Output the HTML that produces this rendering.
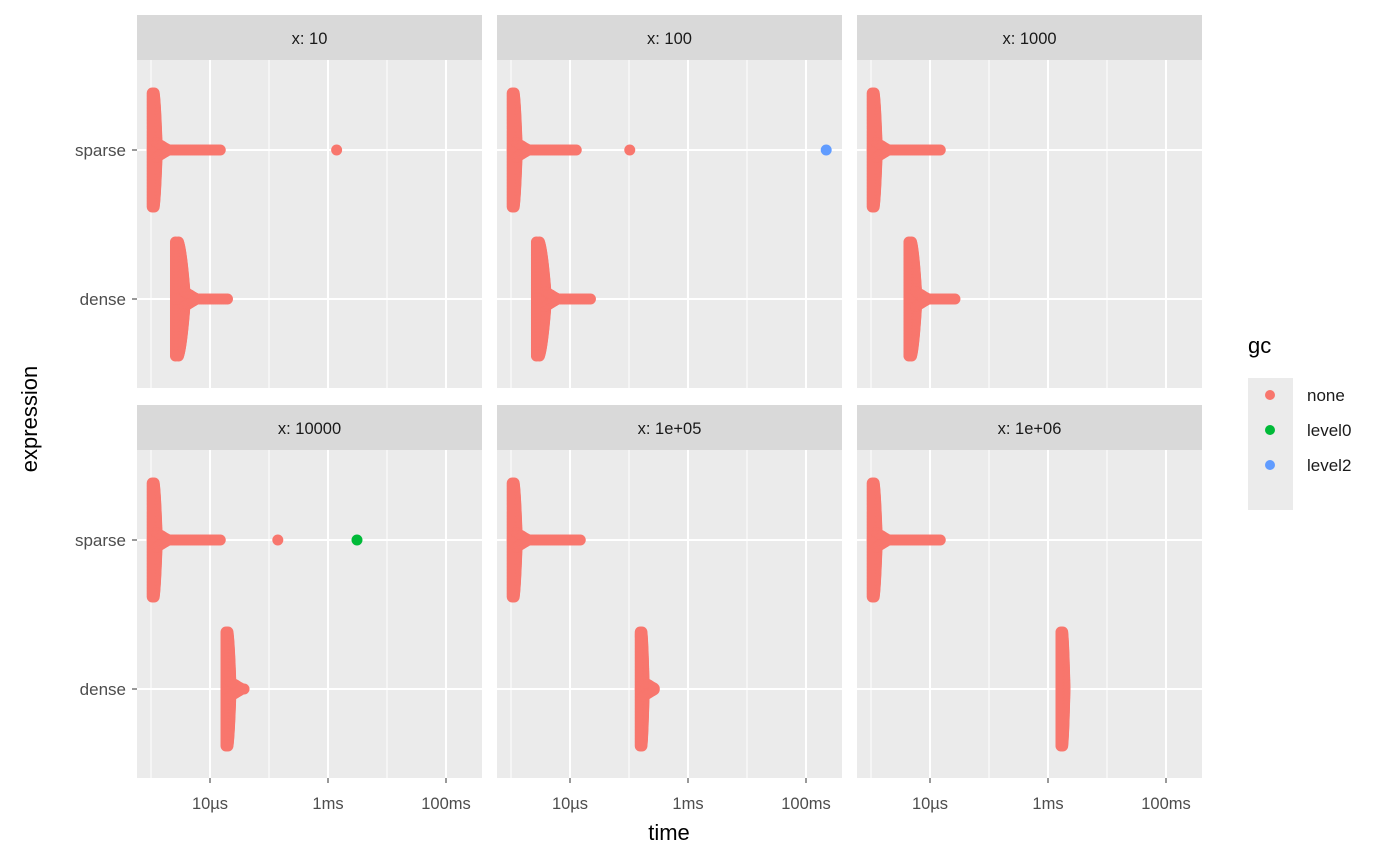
<!DOCTYPE html>
<html><head><meta charset="utf-8"><style>
body{margin:0;background:#fff;}
svg{display:block;font-family:"Liberation Sans","DejaVu Sans",sans-serif;}
</style></head><body>
<svg id="chart" width="1400" height="865" viewBox="0 0 1400 865" xmlns="http://www.w3.org/2000/svg"></svg>
<script>
// ---- data (times in seconds) ----
const facetLabels = ["x: 10","x: 100","x: 1000","x: 10000","x: 1e+05","x: 1e+06"];
const expressions = ["sparse","dense"];
const sparseMedian = [1.05e-6,1.05e-6,1.05e-6,1.05e-6,1.05e-6,1.05e-6];
const sparseTailMax = [1.5e-5,1.3e-5,1.6e-5,1.6e-5,1.6e-5,1.6e-5];
const denseMedian = [2.6e-6,2.7e-6,4.4e-6,1.87e-5,1.55e-4,1.66e-3];
const denseTailMax = [2.0e-5,2.3e-5,2.8e-5,3.9e-5,2.3e-4,1.66e-3];
const outlierFacet = [0,1,1,3,3];
const outlierExpr = ["sparse","sparse","sparse","sparse","sparse"];
const outlierTime = [1.4e-3,1.03e-4,0.22,1.41e-4,3.1e-3];
const outlierGc = ["none","none","level2","none","level0"];
const xTickVals = [1e-5,1e-3,1e-1];
const xTickLabels = ["10µs","1ms","100ms"];
const xMinorVals = [1e-6,1e-4,1e-2];
const gcLevels = ["none","level0","level2"];
const gcColors = {none:"#F8766D",level0:"#00BA38",level2:"#619CFF"};

// ---- layout ----
const NS="http://www.w3.org/2000/svg";
const svg=document.getElementById("chart");
function el(tag,attrs,parent){const e=document.createElementNS(NS,tag);for(const k in attrs)e.setAttribute(k,attrs[k]);(parent||svg).appendChild(e);return e;}
const panelW=345, panelLefts=[137,497,857];
const rows=[{stripTop:15,top:60,bottom:388},{stripTop:405,top:450,bottom:778}];
const denseWidth=[9,9,7,4,3,3];
function xScale(t,left){return left+73+59*(Math.log10(t)+5);}
function yScale(expr,row){const r=rows[row];return expr==="sparse"?r.top+90:r.top+239;}
const PR=5.5;

for(let i=0;i<6;i++){
  const col=i%3,row=Math.floor(i/3);
  const L=panelLefts[col],R=rows[row];
  const g=el("g",{});
  
  
  const strip=el("rect",{x:L,y:R.stripTop,width:panelW,height:R.top-R.stripTop,fill:"#d9d9d9"},g);
  
  
  const st=el("text",{x:L+panelW/2,y:R.stripTop+29,"text-anchor":"middle","font-size":"16.5",fill:"#1a1a1a"},g);
  st.textContent=facetLabels[i];
  
  
  const bg=el("rect",{x:L,y:R.top,width:panelW,height:R.bottom-R.top,fill:"#ebebeb"},g);
  
  
  xMinorVals.forEach(v=>{const x=xScale(v,L);el("line",{x1:x,x2:x,y1:R.top,y2:R.bottom,stroke:"#fff","stroke-width":1},g);});
  xTickVals.forEach(v=>{const x=xScale(v,L);el("line",{x1:x,x2:x,y1:R.top,y2:R.bottom,stroke:"#fff","stroke-width":2},g);});
  expressions.forEach(e=>{const y=yScale(e,row);el("line",{x1:L,x2:L+panelW,y1:y,y2:y,stroke:"#fff","stroke-width":2},g);});
  const cloud=el("g",{fill:gcColors.none},g);
  
  
  [["sparse",sparseMedian[i],sparseTailMax[i],4],["dense",denseMedian[i],denseTailMax[i],denseWidth[i]]].forEach(([e,med,tmax,k])=>{
    const cx=xScale(med,L),cy=yScale(e,row);
    for(let dy=-57;dy<=57;dy+=1.5){
      const f=1-Math.abs(dy)/60;
      const ext=k*Math.sqrt(f)+1;
      el("circle",{cx:cx+ext,cy:cy+dy,r:PR},cloud);
      el("circle",{cx:cx,cy:cy+dy,r:PR},cloud);
    }
    const tx=xScale(tmax,L);
    if(tx>cx+k+6){
      for(let x=cx;x<=tx;x+=2){
        el("circle",{cx:x,cy:cy,r:PR},cloud);
      }
      for(let d=0;d<12;d+=1){
        const off=Math.max(0,(12-d)*0.6);
        el("circle",{cx:cx+k+d,cy:cy-off,r:PR},cloud);
        el("circle",{cx:cx+k+d,cy:cy+off,r:PR},cloud);
      }
    }
  });
  for(let k=0;k<outlierTime.length;k++){
    if(outlierFacet[k]!==i)continue;
    const c=el("circle",{cx:xScale(outlierTime[k],L),cy:yScale(outlierExpr[k],row),r:PR,fill:gcColors[outlierGc[k]]},g);
    
    
  }
  if(row===1){
    xTickVals.forEach((v,j)=>{const x=xScale(v,L);
      el("line",{x1:x,x2:x,y1:R.bottom,y2:R.bottom+5,stroke:"#333","stroke-width":1},g);
      const t=el("text",{x:x,y:R.bottom+31,"text-anchor":"middle","font-size":"16.5",fill:"#4d4d4d"},g);
      t.textContent=xTickLabels[j];
      
      
    });
  }
  if(col===0){
    expressions.forEach(e=>{const y=yScale(e,row);
      el("line",{x1:L-5,x2:L,y1:y,y2:y,stroke:"#333","stroke-width":1},g);
      const t=el("text",{x:L-11,y:y+6,"text-anchor":"end","font-size":"17",fill:"#4d4d4d"},g);
      t.textContent=e;
      
      
    });
  }
}
const xt=el("text",{x:669,y:840,"text-anchor":"middle","font-size":"22",fill:"#000"});
xt.textContent="time";


const yt=el("text",{x:37,y:419,"text-anchor":"middle","font-size":"22",fill:"#000",transform:"rotate(-90 37 419)"});
yt.textContent="expression";


const lg=el("g",{});


const lt=el("text",{x:1248,y:353,"font-size":"22",fill:"#000"},lg);
lt.textContent="gc";


el("rect",{x:1248,y:378,width:45,height:132,fill:"#ebebeb"},lg);
gcLevels.forEach((lv,j)=>{
  const y=395+j*35;
  const c=el("circle",{cx:1270,cy:y,r:5,fill:gcColors[lv]},lg);
  
  
  const t=el("text",{x:1307,y:y+6,"font-size":"17",fill:"#1a1a1a"},lg);
  t.textContent=lv;
  
  
});
</script>
</body></html>
